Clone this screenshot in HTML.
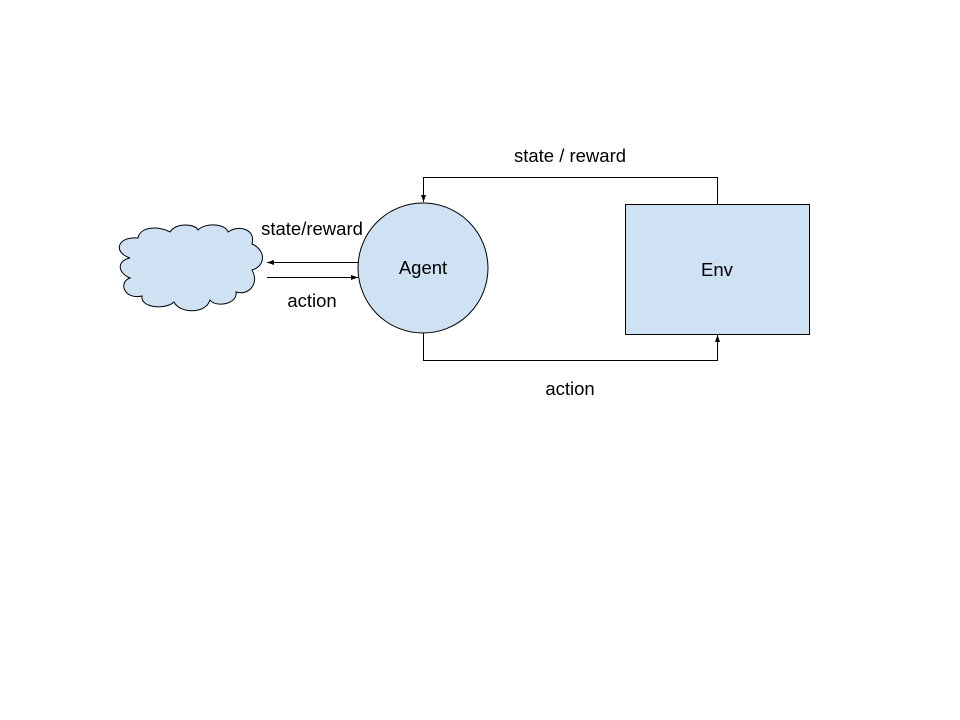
<!DOCTYPE html>
<html><head><style>body{margin:0;background:#fff}svg{display:block}</style></head><body>
<svg width="960" height="720" viewBox="0 0 960 720" xmlns="http://www.w3.org/2000/svg" font-family="Liberation Sans, Arial, sans-serif">
<defs><marker id="a" markerWidth="8" markerHeight="8" refX="7" refY="4" orient="auto" markerUnits="userSpaceOnUse"><path d="M0,1.5 L7,4 L0,6.5z" fill="#000"/></marker></defs>
<path d="M130,258 C112,252 118,236 138,238 C140,226 160,226 170,232 C176,222 196,224 198,230 C206,222 226,224 228,232 C240,224 256,230 252,244 C266,250 266,266 252,270 C260,284 248,296 236,292 C238,304 216,308 210,300 C206,314 180,314 174,302 C166,310 140,308 142,296 C124,300 118,282 130,278 C116,272 118,260 130,258 Z" fill="#cfe2f3" stroke="#000" stroke-width="1"/>
<circle cx="423" cy="268" r="65" fill="#cfe2f3" stroke="#000"/>
<rect x="625.5" y="204.5" width="184" height="130" fill="#cfe2f3" stroke="#000"/>
<line x1="358" y1="262.5" x2="267" y2="262.5" stroke="#000" marker-end="url(#a)"/>
<line x1="267" y1="277.5" x2="358" y2="277.5" stroke="#000" marker-end="url(#a)"/>
<polyline points="717.5,204 717.5,177.5 423.5,177.5 423.5,202" fill="none" stroke="#000" marker-end="url(#a)"/>
<polyline points="423.5,333 423.5,360.5 717.5,360.5 717.5,335" fill="none" stroke="#000" marker-end="url(#a)"/>
<g font-size="18.5" fill="#000" text-anchor="middle">
<text x="423" y="274">Agent</text>
<text x="717" y="276">Env</text>
<text x="570" y="162">state / reward</text>
<text x="570" y="395">action</text>
<text x="312" y="235">state/reward</text>
<text x="312" y="307">action</text>
</g>
</svg>
</body></html>
